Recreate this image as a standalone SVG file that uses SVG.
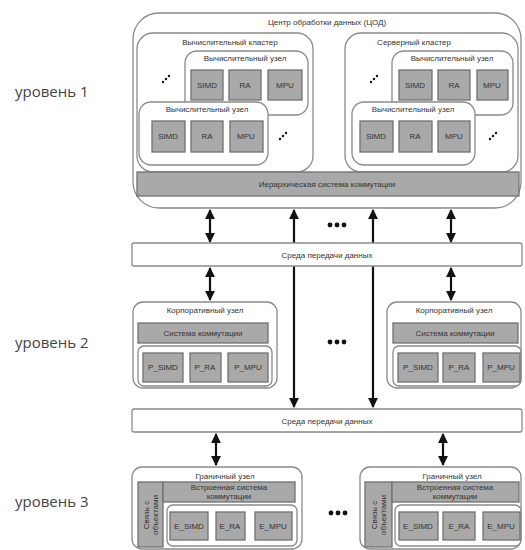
<svg xmlns="http://www.w3.org/2000/svg" width="525" height="550" viewBox="0 0 525 550">
<style>
text{font-family:"Liberation Sans",Arial,sans-serif;fill:#333;text-anchor:middle}
.t{font-size:8px}
.lvl{font-family:"Open Sans","Noto Sans",sans-serif;font-size:15px;text-anchor:start;fill:#444}
.w{fill:#fff;stroke:#8a8a8a;stroke-width:1.3}
.g{fill:#a9a9a9;stroke:#707070;stroke-width:1.3}
.ln{stroke:#111;stroke-width:2.2;fill:none}
.dot{fill:#111}
</style>
<defs>
<marker id="ah" viewBox="0 0 10 10" refX="9" refY="5" markerWidth="4.5" markerHeight="4.5" orient="auto-start-reverse">
<path d="M0,0 L10,5 L0,10 z" fill="#111"/>
</marker>
</defs>

<text class="lvl" x="15" y="97">уровень 1</text>
<text class="lvl" x="15" y="348">уровень 2</text>
<text class="lvl" x="15" y="507">уровень 3</text>

<g id="connectors">
<line class="ln" x1="210" y1="210" x2="210" y2="242" marker-start="url(#ah)" marker-end="url(#ah)"/>
<line class="ln" x1="451" y1="210" x2="451" y2="242" marker-start="url(#ah)" marker-end="url(#ah)"/>
<line class="ln" x1="294" y1="210" x2="294" y2="407" marker-start="url(#ah)" marker-end="url(#ah)"/>
<line class="ln" x1="373" y1="210" x2="373" y2="407" marker-start="url(#ah)" marker-end="url(#ah)"/>
<line class="ln" x1="210" y1="268" x2="210" y2="300" marker-start="url(#ah)" marker-end="url(#ah)"/>
<line class="ln" x1="451" y1="268" x2="451" y2="300" marker-start="url(#ah)" marker-end="url(#ah)"/>
<line class="ln" x1="216" y1="434" x2="216" y2="465" marker-start="url(#ah)" marker-end="url(#ah)"/>
<line class="ln" x1="443" y1="434" x2="443" y2="465" marker-start="url(#ah)" marker-end="url(#ah)"/>
</g>

<g id="dc">
<rect class="w" x="133" y="13" width="388" height="195" rx="26"/>
<text class="t" x="327" y="25">Центр обработки данных (ЦОД)</text>

<g id="cluster-left">
<rect class="w" x="137" y="33" width="176" height="139" rx="16"/>
<text class="t" x="230" y="45">Вычислительный кластер</text>
<g id="node-l1">
<rect class="w" x="185" y="51" width="123" height="64" rx="12"/>
<text class="t" x="245" y="61">Вычислительный узел</text>
<rect class="g" x="191" y="70" width="32" height="30"/><text class="t" x="207" y="88">SIMD</text>
<rect class="g" x="229" y="70" width="32" height="30"/><text class="t" x="245" y="88">RA</text>
<rect class="g" x="268" y="70" width="34" height="30"/><text class="t" x="285" y="88">MPU</text>
</g>
<g id="node-l2">
<rect class="w" x="139" y="102" width="129" height="63" rx="12"/>
<text class="t" x="207" y="112">Вычислительный узел</text>
<rect class="g" x="152" y="121" width="33" height="31"/><text class="t" x="168" y="139">SIMD</text>
<rect class="g" x="191" y="121" width="32" height="31"/><text class="t" x="207" y="139">RA</text>
<rect class="g" x="230" y="121" width="33" height="31"/><text class="t" x="246" y="139">MPU</text>
</g>
<circle class="dot" cx="163" cy="82" r="1.2"/><circle class="dot" cx="166" cy="79" r="1.2"/><circle class="dot" cx="169" cy="76" r="1.2"/>
<circle class="dot" cx="280" cy="139" r="1.2"/><circle class="dot" cx="283" cy="136" r="1.2"/><circle class="dot" cx="286" cy="133" r="1.2"/>
</g>

<g id="cluster-right">
<rect class="w" x="345" y="33" width="173" height="139" rx="16"/>
<text class="t" x="414" y="45">Серверный кластер</text>
<g id="node-r1">
<rect class="w" x="392" y="51" width="121" height="64" rx="12"/>
<text class="t" x="452" y="61">Вычислительный узел</text>
<rect class="g" x="399" y="70" width="33" height="30"/><text class="t" x="415" y="88">SIMD</text>
<rect class="g" x="438" y="70" width="32" height="30"/><text class="t" x="454" y="88">RA</text>
<rect class="g" x="477" y="70" width="31" height="30"/><text class="t" x="492" y="88">MPU</text>
</g>
<g id="node-r2">
<rect class="w" x="352" y="102" width="123" height="63" rx="12"/>
<text class="t" x="413" y="112">Вычислительный узел</text>
<rect class="g" x="360" y="121" width="33" height="31"/><text class="t" x="376" y="139">SIMD</text>
<rect class="g" x="399" y="121" width="33" height="31"/><text class="t" x="415" y="139">RA</text>
<rect class="g" x="438" y="121" width="32" height="31"/><text class="t" x="454" y="139">MPU</text>
</g>
<circle class="dot" cx="371" cy="82" r="1.2"/><circle class="dot" cx="374" cy="79" r="1.2"/><circle class="dot" cx="377" cy="76" r="1.2"/>
<circle class="dot" cx="490" cy="139" r="1.2"/><circle class="dot" cx="493" cy="136" r="1.2"/><circle class="dot" cx="496" cy="133" r="1.2"/>
</g>

<g id="hier-switch">
<rect class="g" x="137" y="172" width="382" height="24"/>
<text class="t" x="327" y="187">Иерархическая система коммутации</text>
</g>
</g>

<g id="dots1"><circle class="dot" cx="330" cy="225" r="2.4"/><circle class="dot" cx="337" cy="225" r="2.4"/><circle class="dot" cx="344" cy="225" r="2.4"/></g>

<g id="medium1">
<rect class="w" x="132" y="243" width="390" height="23" rx="2"/>
<text class="t" x="327" y="258">Среда передачи данных</text>
</g>

<g id="corp-left">
<rect class="w" x="133" y="302" width="144" height="86" rx="10"/>
<text class="t" x="205" y="313">Корпоративный узел</text>
<rect class="g" x="138" y="323" width="130" height="20"/>
<text class="t" x="203" y="336">Система коммутации</text>
<rect class="w" x="138" y="346" width="134" height="40" rx="6"/>
<rect class="g" x="143" y="353" width="40" height="29"/><text class="t" x="163" y="370">P_SIMD</text>
<rect class="g" x="190" y="353" width="31" height="29"/><text class="t" x="205" y="370">P_RA</text>
<rect class="g" x="228" y="353" width="40" height="29"/><text class="t" x="248" y="370">P_MPU</text>
</g>

<g id="dots2"><circle class="dot" cx="330" cy="342" r="2.4"/><circle class="dot" cx="337" cy="342" r="2.4"/><circle class="dot" cx="344" cy="342" r="2.4"/></g>

<g id="corp-right">
<rect class="w" x="387" y="302" width="134" height="86" rx="10"/>
<text class="t" x="454" y="313">Корпоративный узел</text>
<rect class="g" x="393" y="323" width="125" height="20"/>
<text class="t" x="455" y="336">Система коммутации</text>
<rect class="w" x="393" y="346" width="128" height="40" rx="6"/>
<rect class="g" x="398" y="353" width="40" height="29"/><text class="t" x="418" y="370">P_SIMD</text>
<rect class="g" x="443" y="353" width="32" height="29"/><text class="t" x="459" y="370">P_RA</text>
<rect class="g" x="483" y="353" width="37" height="29"/><text class="t" x="501" y="370">P_MPU</text>
</g>

<g id="medium2">
<rect class="w" x="132" y="409" width="390" height="23" rx="2"/>
<text class="t" x="327" y="424">Среда передачи данных</text>
</g>

<g id="edge-left">
<rect class="w" x="132" y="467" width="170" height="82" rx="10"/>
<text class="t" x="225" y="479">Граничный узел</text>
<rect class="g" x="138" y="482" width="25" height="65"/>
<text class="t" transform="translate(149,515) rotate(-90)">Связь с</text>
<text class="t" transform="translate(158,515) rotate(-90)">объектами</text>
<rect class="g" x="163" y="482" width="132" height="20"/>
<text class="t" x="229" y="490">Встроенная система</text>
<text class="t" x="229" y="499">коммутации</text>
<rect class="w" x="167" y="505" width="130" height="41" rx="6"/>
<rect class="g" x="170" y="512" width="38" height="28"/><text class="t" x="189" y="529">E_SIMD</text>
<rect class="g" x="216" y="512" width="29" height="28"/><text class="t" x="230" y="529">E_RA</text>
<rect class="g" x="255" y="512" width="37" height="28"/><text class="t" x="273" y="529">E_MPU</text>
</g>

<g id="dots3"><circle class="dot" cx="331" cy="513" r="2.4"/><circle class="dot" cx="338" cy="513" r="2.4"/><circle class="dot" cx="345" cy="513" r="2.4"/></g>

<g id="edge-right">
<rect class="w" x="360" y="467" width="161" height="82" rx="10"/>
<text class="t" x="452" y="479">Граничный узел</text>
<rect class="g" x="365" y="482" width="27" height="65"/>
<text class="t" transform="translate(377,515) rotate(-90)">Связь с</text>
<text class="t" transform="translate(386,515) rotate(-90)">объектами</text>
<rect class="g" x="392" y="482" width="127" height="20"/>
<text class="t" x="455" y="490">Встроенная система</text>
<text class="t" x="455" y="499">коммутации</text>
<rect class="w" x="395" y="505" width="126" height="41" rx="6"/>
<rect class="g" x="399" y="512" width="39" height="28"/><text class="t" x="418" y="529">E_SIMD</text>
<rect class="g" x="443" y="512" width="32" height="28"/><text class="t" x="459" y="529">E_RA</text>
<rect class="g" x="483" y="512" width="37" height="28"/><text class="t" x="501" y="529">E_MPU</text>
</g>
</svg>
